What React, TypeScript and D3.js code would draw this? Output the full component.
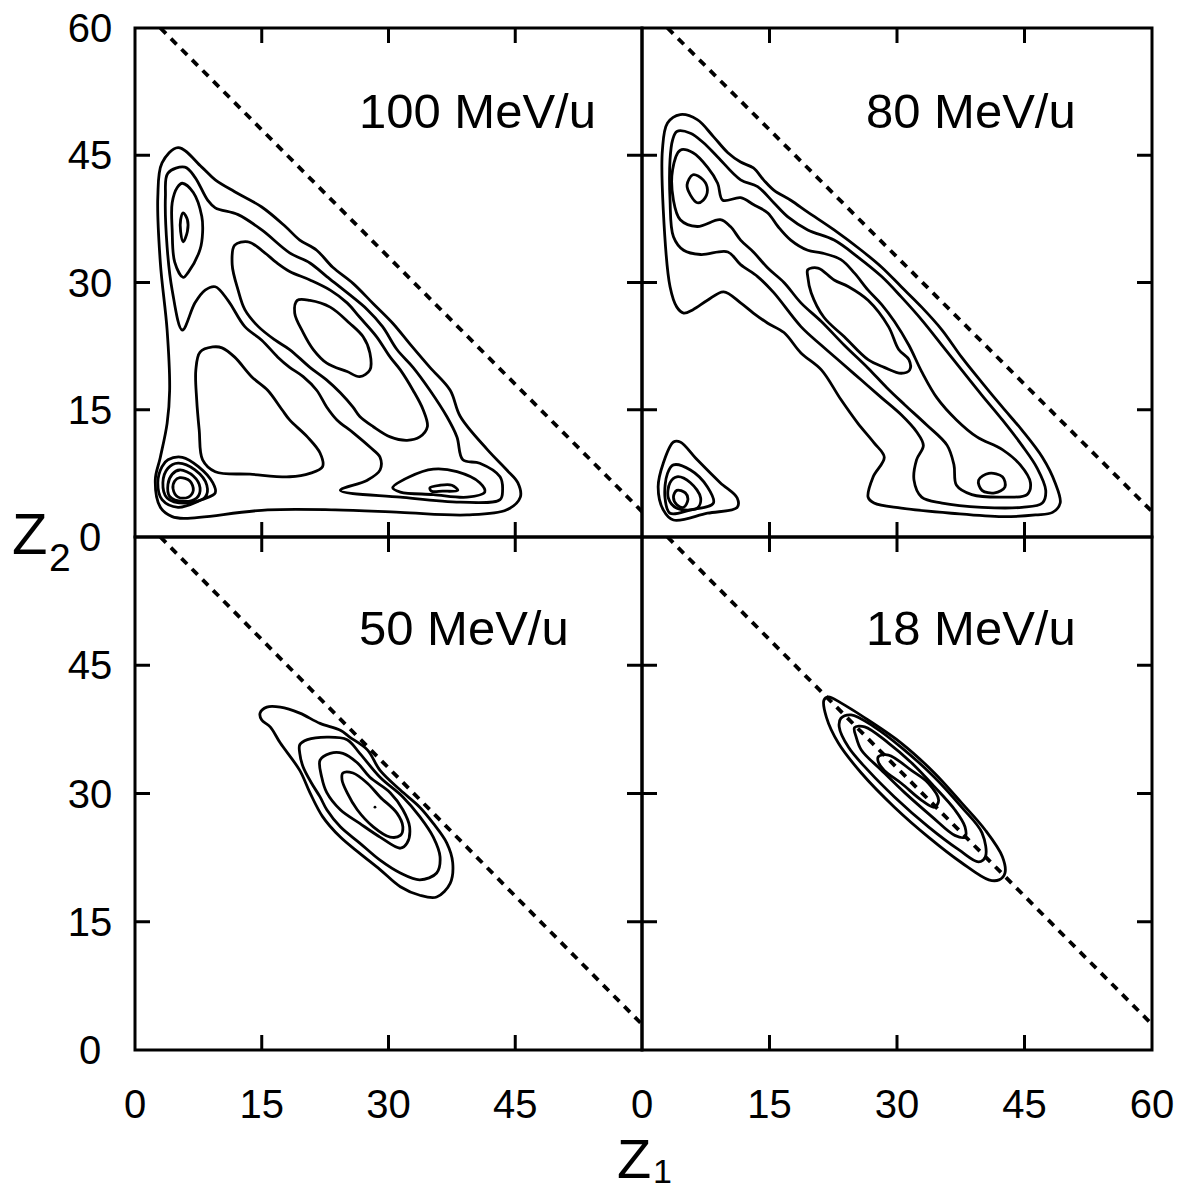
import React from 'react';
import * as d3 from 'd3';

type Pt = [number, number];

// ---------- axes / labels ----------
const innerTicks = [15, 30, 45];
const xTickLabelsLeft = [0, 15, 30, 45];
const xTickLabelsRight = [0, 15, 30, 45, 60];
const yTickLabelsTop = [60, 45, 30, 15, 0];
const yTickLabelsBottom = [45, 30, 15, 0];
const kinematicLimit = 63; // dashed line Z1 + Z2 = const
const energies = ['100 MeV/u', '80 MeV/u', '50 MeV/u', '18 MeV/u'];

// ---------- 100 MeV/u contours (Z1, Z2) ----------
const c100_outer: Pt[] = [[5.1,45.9],[7.9,43.6],[9.5,42.1],[11.8,40.7],[15.0,38.9],[17.8,36.6],[19.5,35.0],[21.5,33.8],[23.4,31.8],[25.8,29.9],[28.2,27.5],[30.5,25.2],[32.5,22.8],[34.9,20.0],[37.3,17.3],[38.5,14.2],[41.7,10.3],[44.0,7.9],[45.3,6.4],[45.6,4.7],[44.0,3.2],[39.3,2.6],[31.4,2.9],[23.7,3.2],[15.7,3.2],[5.9,2.2],[4.4,2.4],[3.0,3.5],[2.4,6.7],[3.0,9.4],[3.8,13.4],[4.1,17.3],[3.8,24.4],[3.0,32.3],[2.7,40.1],[3.2,44.1]];
const c100_band: Pt[] = [[5.9,43.6],[7.1,42.4],[8.6,39.7],[9.5,38.8],[12.2,38.0],[15.0,36.2],[18.3,33.5],[20.7,32.3],[22.7,30.7],[25.1,28.8],[27.5,26.8],[29.3,24.8],[31.0,22.1],[32.9,20.0],[34.9,17.3],[36.9,14.2],[38.1,11.8],[38.8,9.1],[40.8,8.7],[43.2,7.1],[43.5,5.5],[43.2,4.4],[38.5,4.1],[31.4,4.7],[24.3,5.5],[27.5,6.7],[29.0,7.9],[29.0,9.4],[27.8,10.6],[25.8,12.3],[23.9,13.8],[22.7,15.3],[21.5,17.3],[19.9,18.9],[18.3,20.0],[16.9,21.2],[15.0,23.2],[13.0,24.8],[11.0,27.9],[9.5,29.5],[8.3,29.1],[7.1,27.6],[5.6,24.4],[4.4,29.1],[3.8,34.2],[3.6,40.1],[3.9,42.9]];
const c100_middle: Pt[] = [[9.2,22.4],[7.7,21.8],[7.2,19.7],[7.3,16.2],[7.6,12.6],[8.0,9.1],[9.5,7.7],[13.6,7.4],[18.3,7.1],[20.7,7.5],[22.2,8.3],[21.9,9.9],[20.4,11.8],[18.3,13.8],[17.4,15.0],[15.7,17.3],[13.8,18.9],[11.8,21.2],[10.3,22.3]];
const c100_lobeA3: Pt[] = [[5.6,41.7],[6.9,40.6],[7.9,37.8],[8.0,35.9],[7.7,33.9],[6.3,31.2],[5.7,30.6],[4.7,32.4],[4.4,36.2],[4.4,39.4],[5.0,41.2]];
const c100_lobeA4: Pt[] = [[5.7,38.2],[6.2,37.4],[6.2,36.0],[5.7,34.8],[5.4,36.0],[5.4,37.4]];
const c100_band3: Pt[] = [[11.8,34.4],[13.4,34.8],[15.0,33.8],[16.8,32.3],[18.3,31.3],[20.7,30.3],[23.1,29.1],[25.1,27.6],[26.6,25.9],[28.6,23.6],[30.2,21.2],[31.4,19.7],[32.9,17.3],[34.1,15.0],[34.6,13.0],[33.7,11.8],[32.2,11.4],[30.2,11.8],[28.2,13.0],[26.6,14.2],[25.8,15.3],[24.3,17.0],[22.7,18.5],[20.7,20.0],[18.3,22.1],[16.6,23.2],[14.6,24.8],[13.0,26.8],[12.2,29.1],[11.5,32.1]];
const c100_band4: Pt[] = [[19.2,27.9],[20.7,27.9],[23.1,27.1],[25.4,25.2],[27.0,23.6],[27.8,21.7],[27.8,19.7],[26.6,18.9],[25.1,19.5],[22.7,20.5],[21.1,22.1],[19.9,24.1],[18.9,26.4]];
const c100_lobeB3: Pt[] = [[30.5,5.8],[32.5,7.1],[35.3,8.0],[38.1,7.7],[40.8,6.4],[41.4,5.3],[39.3,4.7],[35.3,5.0],[31.4,5.3]];
const c100_lobeB4: Pt[] = [[34.9,5.8],[36.1,6.1],[37.5,6.1],[38.2,5.5],[36.4,5.4],[35.1,5.4]];
const c100_lobeC1: Pt[] = [[3.9,9.1],[5.6,9.4],[7.5,8.3],[9.2,6.4],[9.5,5.2],[7.9,4.4],[5.1,3.5],[3.2,4.4],[2.7,6.4],[3.2,8.3]];
const c100_lobeC2: Pt[] = [[5.1,8.7],[7.1,7.9],[8.5,6.1],[8.3,4.7],[5.9,4.0],[3.8,4.6],[3.3,6.4],[3.9,8.1]];
const c100_lobeC3: Pt[] = [[5.3,7.9],[6.9,7.2],[7.7,5.8],[7.3,4.6],[5.7,4.2],[4.1,4.8],[3.9,6.2],[4.4,7.4]];
const c100_lobeC4: Pt[] = [[5.3,7.0],[6.5,6.6],[6.9,5.5],[6.3,4.7],[5.1,4.7],[4.5,5.7],[4.7,6.6]];

// ---------- 80 MeV/u contours ----------
const c80_outer: Pt[] = [[4.5,49.8],[6.5,49.2],[8.4,47.2],[10.1,45.3],[11.6,44.2],[13.1,43.5],[14.3,42.1],[15.5,40.9],[17.5,39.7],[19.5,38.3],[22.6,36.2],[25.8,33.8],[28.2,31.8],[30.5,29.5],[32.9,27.1],[35.3,24.4],[37.6,21.2],[40.0,18.2],[42.4,15.3],[44.7,12.6],[47.1,9.4],[48.6,6.4],[49.2,4.0],[48.3,2.9],[46.3,2.6],[42.4,2.4],[36.4,2.8],[30.5,3.4],[27.3,4.0],[26.6,4.7],[27.2,7.1],[28.5,9.4],[27.3,11.1],[25.4,13.4],[23.4,16.2],[21.1,19.7],[18.7,21.7],[16.7,24.1],[14.8,25.2],[13.1,26.4],[11.6,27.6],[9.6,28.9],[7.7,27.9],[6.0,26.8],[4.9,26.4],[4.1,27.1],[3.3,29.5],[2.5,38.6],[2.4,45.6],[3.0,48.8]];
const c80_band2: Pt[] = [[4.1,47.8],[5.7,47.6],[7.2,46.5],[8.9,44.8],[11.6,42.1],[13.6,41.3],[15.5,39.4],[17.2,37.7],[19.5,36.2],[22.6,35.0],[25.4,33.0],[28.2,30.7],[30.5,28.3],[32.9,25.6],[35.3,22.6],[37.6,19.7],[40.0,16.7],[42.4,13.8],[44.7,10.8],[46.5,8.1],[47.5,5.5],[47.1,4.0],[44.7,3.5],[40.0,3.5],[35.3,4.0],[32.9,4.7],[32.0,6.7],[32.3,9.1],[33.1,10.8],[32.3,12.4],[30.5,14.4],[28.2,16.4],[25.8,18.5],[23.4,20.6],[21.1,22.6],[18.7,24.8],[15.5,28.8],[13.6,30.7],[11.6,32.1],[10.1,33.6],[6.9,33.3],[4.9,33.8],[3.7,35.4],[3.3,39.7],[3.3,44.5],[3.6,46.8]];
const c80_band3: Pt[] = [[4.5,45.6],[6.0,45.3],[7.7,43.6],[8.9,41.7],[9.5,39.7],[11.6,40.0],[13.1,39.2],[14.8,38.2],[16.0,36.6],[17.5,35.0],[19.5,33.8],[21.1,33.5],[23.4,32.7],[25.0,31.1],[26.6,29.1],[28.2,27.4],[29.7,25.4],[31.4,22.6],[32.9,19.5],[34.7,16.4],[37.0,13.8],[39.4,11.8],[42.4,10.3],[44.5,8.5],[45.7,6.4],[45.3,5.0],[42.4,4.7],[38.8,5.0],[37.0,6.1],[36.7,8.5],[35.9,10.8],[33.5,13.2],[30.9,15.6],[28.8,17.6],[26.6,19.9],[23.8,22.6],[21.1,25.4],[18.7,27.6],[16.7,30.0],[14.8,31.7],[13.1,33.6],[11.6,35.0],[10.4,36.6],[9.2,37.4],[6.5,36.6],[4.5,37.4],[3.7,39.7],[3.6,43.3]];
const c80_lobeA4: Pt[] = [[6.0,42.7],[7.2,42.1],[7.7,40.9],[7.2,39.7],[6.5,39.4],[5.7,40.3],[5.3,41.5]];
const c80_band4: Pt[] = [[19.5,31.5],[20.7,31.7],[22.6,30.3],[24.3,29.5],[26.6,27.9],[29.0,24.8],[30.2,22.1],[31.4,20.9],[31.5,19.7],[30.5,19.3],[28.5,20.0],[26.6,20.9],[23.8,23.6],[21.4,25.9],[19.9,28.8],[19.5,30.7]];
const c80_lobeB4: Pt[] = [[39.6,6.7],[40.8,7.5],[42.4,7.1],[42.7,5.9],[41.5,5.2],[40.0,5.5]];
const c80_lobeC1: Pt[] = [[3.7,11.2],[4.5,11.2],[6.5,9.1],[9.2,6.4],[11.2,4.6],[11.2,3.5],[7.7,2.8],[3.7,2.0],[2.5,3.2],[1.9,5.9],[2.5,8.7]];
const c80_lobeC2: Pt[] = [[3.7,8.5],[5.7,7.9],[7.7,5.9],[8.4,4.0],[5.7,3.2],[3.3,2.8],[2.7,4.7],[3.0,7.5]];
const c80_lobeC3: Pt[] = [[4.1,7.1],[5.7,6.4],[6.9,4.6],[6.5,3.4],[4.1,3.4],[3.1,4.6],[3.3,6.4]];
const c80_lobeC4: Pt[] = [[4.1,5.5],[5.1,5.2],[5.4,4.4],[4.9,3.5],[4.1,3.8],[3.7,4.7]];

// ---------- 50 MeV/u contours ----------
const c50_1: Pt[] = [[14.8,39.4],[15.6,40.1],[17.2,40.1],[19.5,39.4],[21.9,38.2],[24.3,37.4],[25.4,36.6],[27.5,35.1],[29.0,32.7],[31.4,30.4],[33.7,28.4],[35.3,26.5],[36.9,24.2],[37.6,21.9],[37.3,19.5],[35.7,17.9],[33.7,18.1],[31.4,19.1],[29.0,21.1],[26.6,23.0],[24.3,24.9],[22.2,27.3],[20.7,30.1],[19.5,32.7],[17.2,35.9],[16.0,37.8],[15.0,38.6]];
const c50_2: Pt[] = [[19.5,35.7],[20.4,36.3],[22.7,36.6],[25.1,36.3],[26.6,34.7],[29.0,31.9],[31.7,29.6],[33.7,27.3],[35.3,24.9],[36.1,22.6],[35.7,20.7],[33.7,19.9],[31.4,20.7],[29.0,22.2],[26.6,24.2],[24.3,26.1],[22.7,28.1],[21.9,29.6],[20.9,31.2],[19.9,33.1],[19.5,34.7]];
const c50_3: Pt[] = [[21.9,33.9],[23.1,34.7],[24.6,34.7],[26.3,33.6],[27.8,31.9],[30.2,30.1],[31.7,28.1],[32.5,26.1],[32.2,24.2],[31.4,23.6],[29.0,24.9],[26.6,26.5],[24.3,28.1],[22.7,30.1],[22.1,31.9]];
const c50_4: Pt[] = [[24.6,32.4],[25.8,32.4],[27.5,31.2],[29.0,29.6],[31.0,27.7],[31.7,26.1],[31.4,25.1],[30.2,24.9],[28.2,26.1],[26.3,28.1],[25.1,30.1],[24.5,31.6]];
const c50_peak: Pt[] = [[28.4, 28.4]];

// ---------- 18 MeV/u contours ----------
const c18_1: Pt[] = [[21.4,40.9],[21.9,41.3],[23.4,40.6],[26.6,38.6],[30.5,35.9],[34.4,32.4],[37.6,28.9],[40.4,25.7],[42.4,22.6],[42.7,20.7],[42.0,19.9],[40.8,19.9],[37.6,21.9],[33.7,24.9],[29.7,28.4],[25.8,32.4],[23.1,35.9],[21.7,38.9]];
const c18_2: Pt[] = [[23.4,38.8],[24.6,39.2],[27.3,37.8],[30.5,35.4],[34.4,31.9],[37.6,28.4],[40.0,25.4],[40.4,22.6],[39.6,22.0],[37.3,23.4],[33.7,26.1],[29.7,29.6],[26.6,32.7],[24.3,35.4],[23.2,37.8]];
const c18_3: Pt[] = [[25.0,37.7],[26.2,37.8],[29.0,35.9],[31.7,33.6],[34.4,30.8],[36.8,28.1],[38.0,26.1],[38.0,24.9],[36.8,25.1],[34.1,27.3],[30.9,30.1],[28.2,32.7],[25.8,35.1],[25.2,36.6]];
const c18_4: Pt[] = [[27.8,34.3],[29.0,34.5],[31.7,32.7],[33.7,31.2],[34.9,29.2],[34.4,28.4],[32.9,29.2],[30.5,31.2],[28.5,32.7],[27.8,33.7]];

const panels = [
  { title: energies[0], col: 0, row: 0, contours: [c100_outer, c100_band, c100_middle, c100_lobeA3, c100_lobeA4, c100_band3, c100_band4, c100_lobeB3, c100_lobeB4, c100_lobeC1, c100_lobeC2, c100_lobeC3, c100_lobeC4], dots: [] as Pt[] },
  { title: energies[1], col: 1, row: 0, contours: [c80_outer, c80_band2, c80_band3, c80_lobeA4, c80_band4, c80_lobeB4, c80_lobeC1, c80_lobeC2, c80_lobeC3, c80_lobeC4], dots: [] as Pt[] },
  { title: energies[2], col: 0, row: 1, contours: [c50_1, c50_2, c50_3, c50_4], dots: c50_peak },
  { title: energies[3], col: 1, row: 1, contours: [c18_1, c18_2, c18_3, c18_4], dots: [] as Pt[] },
];

const W = 1183, H = 1191;
const colRanges: [number, number][] = [[135, 642], [642, 1152]];
const rowRanges: [number, number][] = [[537, 28], [1050, 537]];
const FONT = '"Liberation Sans", Arial, Helvetica, sans-serif';
const TICK = 15;

export default function App() {
  const xL = d3.scaleLinear().domain([0, 60]).range(colRanges[0]);
  const xR = d3.scaleLinear().domain([0, 60]).range(colRanges[1]);
  const yT = d3.scaleLinear().domain([0, 60]).range(rowRanges[0]);
  const yB = d3.scaleLinear().domain([0, 60]).range(rowRanges[1]);

  return (
    <svg width={W} height={H} viewBox={`0 0 ${W} ${H}`}
      style={{ position: 'absolute', left: 0, top: 0, display: 'block', background: '#fff' }}
      fontFamily={FONT}>
      <rect x={0} y={0} width={W} height={H} fill="#fff" />
      {panels.map((p, i) => {
        const xs = p.col === 0 ? xL : xR;
        const ys = p.row === 0 ? yT : yB;
        const line = d3.line<Pt>().x(d => xs(d[0])).y(d => ys(d[1])).curve(d3.curveCatmullRomClosed.alpha(0.5));
        const clipId = `clip${i}`;
        const x0 = xs(0), x1 = xs(60), y0 = ys(0), y1 = ys(60);
        return (
          <g key={i}>
            <defs>
              <clipPath id={clipId}>
                <rect x={x0} y={y1} width={x1 - x0} height={y0 - y1} />
              </clipPath>
            </defs>
            <g clipPath={`url(#${clipId})`}>
              <line x1={xs(kinematicLimit - 60)} y1={ys(60)} x2={xs(60)} y2={ys(kinematicLimit - 60)}
                stroke="#000" strokeWidth={3.8} strokeDasharray="8 7" />
              {p.contours.map((c, j) => (
                <path key={j} d={line(c) || ''} fill="none" stroke="#000" strokeWidth={2.8} strokeLinejoin="round" />
              ))}
              {p.dots.map((d, j) => (
                <circle key={j} cx={xs(d[0])} cy={ys(d[1])} r={1.4} fill="#000" />
              ))}
            </g>
            {innerTicks.map(t => (
              <g key={t} stroke="#000" strokeWidth={3}>
                <line x1={xs(t)} x2={xs(t)} y1={y0} y2={y0 - TICK} />
                <line x1={xs(t)} x2={xs(t)} y1={y1} y2={y1 + TICK} />
                <line x1={x0} x2={x0 + TICK} y1={ys(t)} y2={ys(t)} />
                <line x1={x1} x2={x1 - TICK} y1={ys(t)} y2={ys(t)} />
              </g>
            ))}
            <rect x={x0} y={y1} width={x1 - x0} height={y0 - y1} fill="none" stroke="#000" strokeWidth={3} />
            <text x={x0 + 224} y={y1 + (p.row === 0 ? 100 : 108)} fontSize={49} fill="#000">{p.title}</text>
          </g>
        );
      })}
      {yTickLabelsTop.map(v => (
        <text key={'yt' + v} x={90} y={yT(v) + 14} fontSize={40} textAnchor="middle" fill="#000">{v}</text>
      ))}
      {yTickLabelsBottom.map(v => (
        <text key={'yb' + v} x={90} y={yB(v) + 14} fontSize={40} textAnchor="middle" fill="#000">{v}</text>
      ))}
      {xTickLabelsLeft.map(v => (
        <text key={'xl' + v} x={xL(v)} y={1118} fontSize={40} textAnchor="middle" fill="#000">{v}</text>
      ))}
      {xTickLabelsRight.map(v => (
        <text key={'xr' + v} x={xR(v)} y={1118} fontSize={40} textAnchor="middle" fill="#000">{v}</text>
      ))}
      <text x={12} y={554} fontSize={58} fill="#000">Z</text>
      <text x={49} y={571} fontSize={39} fill="#000">2</text>
      <text x={617} y={1178} fontSize={56} fill="#000">Z</text>
      <text x={653} y={1183} fontSize={34} fill="#000">1</text>
    </svg>
  );
}
